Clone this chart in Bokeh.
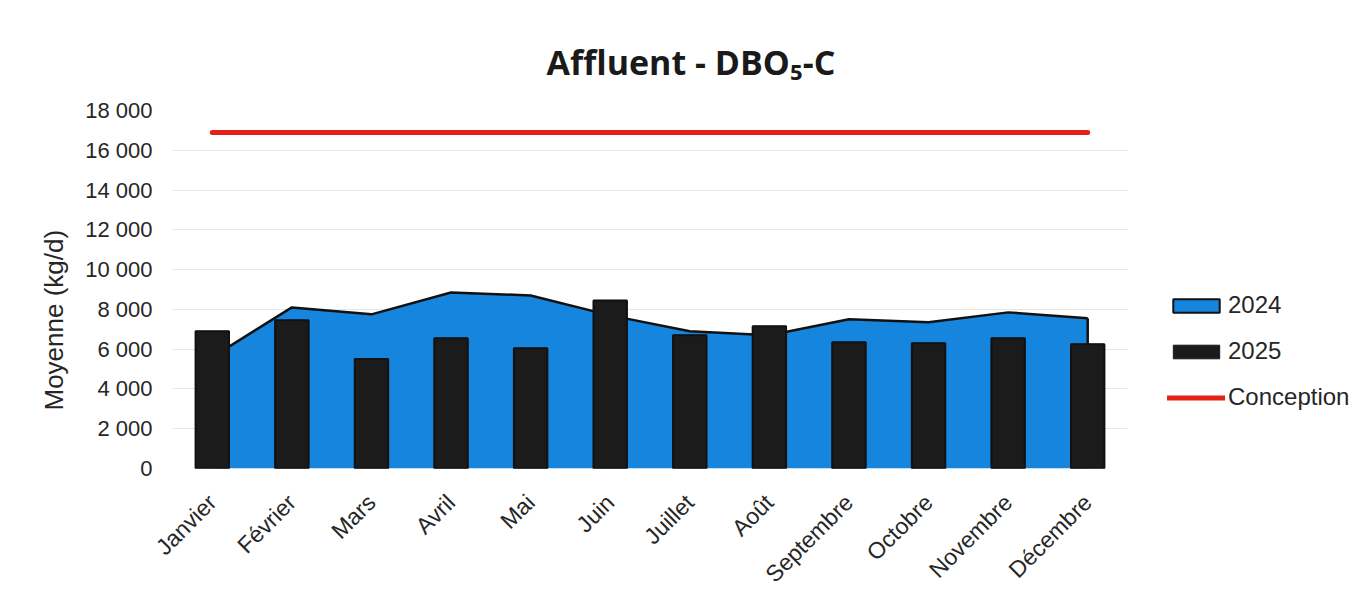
import math
from bokeh.plotting import figure
from bokeh.models import (FactorRange, Range1d, FixedTicker, Legend, LegendItem,
                          ColumnDataSource, Title)
from bokeh.embed import file_html
from bokeh.resources import INLINE

months = ["Janvier", "Février", "Mars", "Avril", "Mai", "Juin", "Juillet",
          "Août", "Septembre", "Octobre", "Novembre", "Décembre"]
val_2024 = [5600, 8100, 7750, 8850, 8700, 7700, 6900, 6700, 7500, 7350, 7850, 7550]
val_2025 = [6900, 7450, 5500, 6550, 6050, 8450, 6700, 7150, 6350, 6300, 6550, 6250]
conception = [16900, 16900, 16900, 16900, 16900, 16900, 16900, 16900, 16900, 16900, 16900, 16900]
y_ticks = [0, 2000, 4000, 6000, 8000, 10000, 12000, 14000, 16000, 18000]
y_tick_labels = ["0", "2 000", "4 000", "6 000", "8 000", "10 000", "12 000", "14 000", "16 000", "18 000"]

FONT = "Liberation Sans"
TXT = "#262626"
BLUE = "#1585dd"
DARK = "#1b1b1b"

src = ColumnDataSource(dict(m=months, v24=val_2024, v25=val_2025, c=conception,
                            zero=[0] * len(months)))

p = figure(x_range=FactorRange(*months), y_range=Range1d(0, 18000),
           frame_width=955, frame_height=358,
           output_backend="svg", toolbar_location=None,
           min_border_left=172, min_border_right=0, min_border_top=110,
           min_border_bottom=118)

p.title.text = "Affluent - DBO₅-C"
p.title.text_font = "Open Sans"
p.title.text_font_size = "34px"
p.title.text_font_style = "bold"
p.title.text_color = "#1a1a1a"
p.title.align = "left"
p.title.offset = 374
p.title.standoff = 52

# 2024 area
area = p.varea(x="m", y1="zero", y2="v24", source=src, fill_color=BLUE)
p.line(x="m", y="v24", source=src, line_color="#111111", line_width=2.5)
p.segment(x0=[months[-1]], y0=[0], x1=[months[-1]], y1=[val_2024[-1]],
          line_color="#111111", line_width=2.5)

# 2025 bars
bars = p.vbar(x="m", top="v25", width=0.42, source=src, fill_color=DARK,
              line_color=DARK)
# outline of the same bars (invisible on the dark bars, gives the 2024 swatch its border)
outline = p.vbar(x="m", top="v25", width=0.42, source=src, fill_color=None,
                 line_color="#111111", line_width=2)

# Conception line
cline = p.line(x="m", y="c", source=src, line_color="#e52218", line_width=5,
               line_cap="round")

legend = Legend(items=[LegendItem(label="2024", renderers=[area, outline]),
                       LegendItem(label="2025", renderers=[bars]),
                       LegendItem(label="Conception", renderers=[cline])],
                location=(40, 57), border_line_color=None, background_fill_alpha=0,
                glyph_width=58, glyph_height=17, label_height=24,
                label_text_font=FONT, label_text_font_size="24px",
                label_text_color=TXT, spacing=18, label_standoff=3,
                margin=0, padding=0)
p.add_layout(legend, "right")

ylab = Title(text="Moyenne (kg/d)", align="left", offset=58, standoff=28,
             text_font=FONT, text_font_size="26px", text_font_style="normal",
             text_color=TXT)
p.add_layout(ylab, "left")

p.outline_line_color = None
p.xgrid.grid_line_color = None
p.ygrid.grid_line_color = "#e6e6e6"
p.ygrid.grid_line_width = 1

p.yaxis.ticker = FixedTicker(ticks=y_ticks)
p.yaxis.major_label_overrides = {t: l for t, l in zip(y_ticks, y_tick_labels)}

for ax in (p.xaxis[0], p.yaxis[0]):
    ax.axis_line_color = None
    ax.major_tick_line_color = None
    ax.minor_tick_line_color = None
    ax.major_tick_out = 0
    ax.major_tick_in = 0
    ax.major_label_text_font = FONT
    ax.major_label_text_color = TXT

p.yaxis.major_label_text_font_size = "22px"
p.yaxis.major_label_standoff = 20
p.xaxis.major_label_text_font_size = "23px"
p.xaxis.major_label_orientation = math.pi / 4
p.xaxis.major_label_standoff = 30

open("out.html", "w").write(file_html(p, INLINE))
